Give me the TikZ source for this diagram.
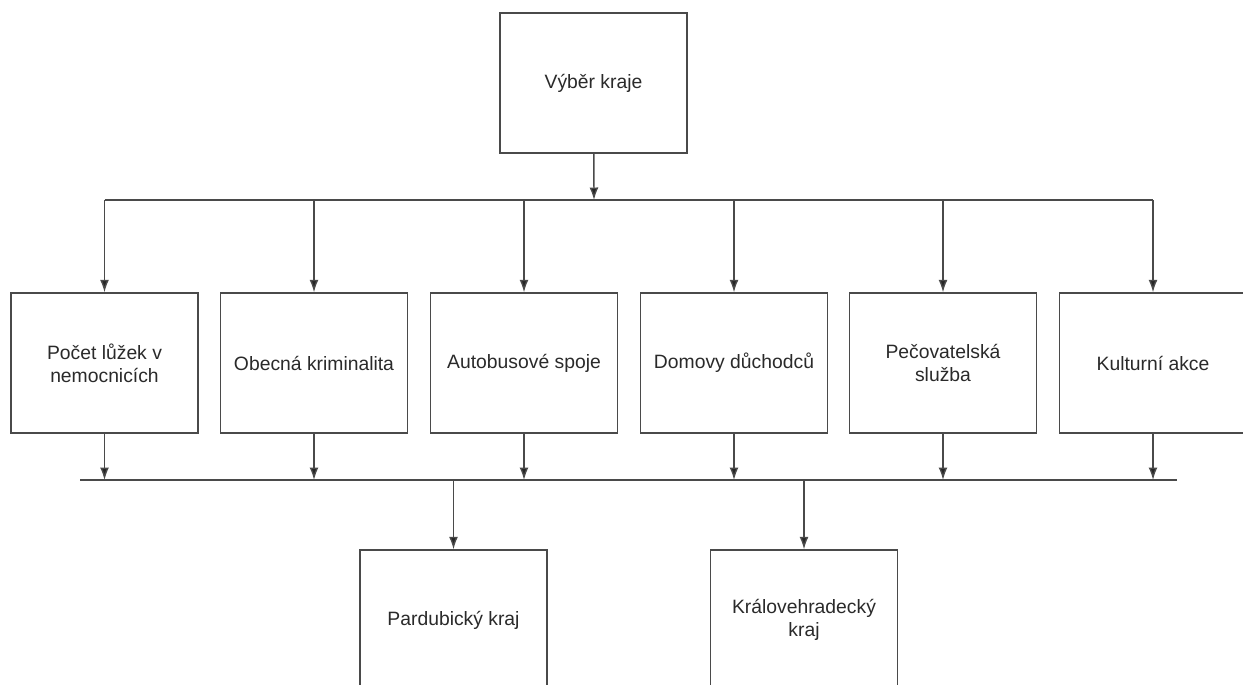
\documentclass[tikz,border=0pt]{standalone}
\usepackage{fontspec}
\setmainfont{Liberation Sans}
\usetikzlibrary{arrows.meta}

\definecolor{linegray}{HTML}{4A4A4A}
\definecolor{textgray}{HTML}{2A2A2A}

\tikzset{
	krok/.style={draw=linegray, line width=0.8pt, fill=white, text=textgray,
		minimum width=3.74cm, minimum height=2.8cm, align=center,
		font=\fontsize{11}{13}\selectfont},
	sipka/.style={draw=linegray, line width=0.8pt,
		-{Latex[length=0.25cm,width=0.18cm,fill=black!85]}},
	vedeni/.style={draw=linegray, line width=0.8pt}
}

\begin{document}
\begin{tikzpicture}[x=0.02cm,y=-0.02cm]
	% frame of the picture
	\useasboundingbox (0,0) rectangle (1243,684);
	\clip (0,0) rectangle (1243,684);
	% goal
	\node[krok] (vyber) at (593.5,83) {Výběr kraje};
	% criteria
	\node[krok] (luzka)   at (104.5,363) {Počet lůžek v\\nemocnicích};
	\node[krok] (krimi)   at (314,363)   {Obecná kriminalita};
	\node[krok] (autobus) at (524,363)   {Autobusové spoje};
	\node[krok] (domovy)  at (734,363)   {Domovy důchodců};
	\node[krok] (pece)    at (943,363)   {Pečovatelská\\služba};
	\node[krok] (kultura) at (1153,363)  {Kulturní akce};
	% alternatives
	\node[krok] (pardubice) at (453.5,620) {Pardubický kraj};
	\node[krok] (hradec)    at (804,620)   {Královehradecký\\kraj};
	% bus lines
	\coordinate (busTop) at (594,200);
	\coordinate (busL) at (80,480);
	\coordinate (busR) at (1177,480);
	\draw[sipka] (vyber) -- (busTop);
	\draw[vedeni] (luzka |- busTop) -- (kultura |- busTop);
	\draw[vedeni] (busL) -- (busR);
	\foreach \n in {luzka,krimi,autobus,domovy,pece,kultura}
	{
		\draw[sipka] (\n |- busTop) -- (\n);
		\draw[sipka] (\n) -- (\n |- busL);
	}
	\draw[sipka] (pardubice |- busL) -- (pardubice);
	\draw[sipka] (hradec |- busL) -- (hradec);
\end{tikzpicture}
\end{document}
